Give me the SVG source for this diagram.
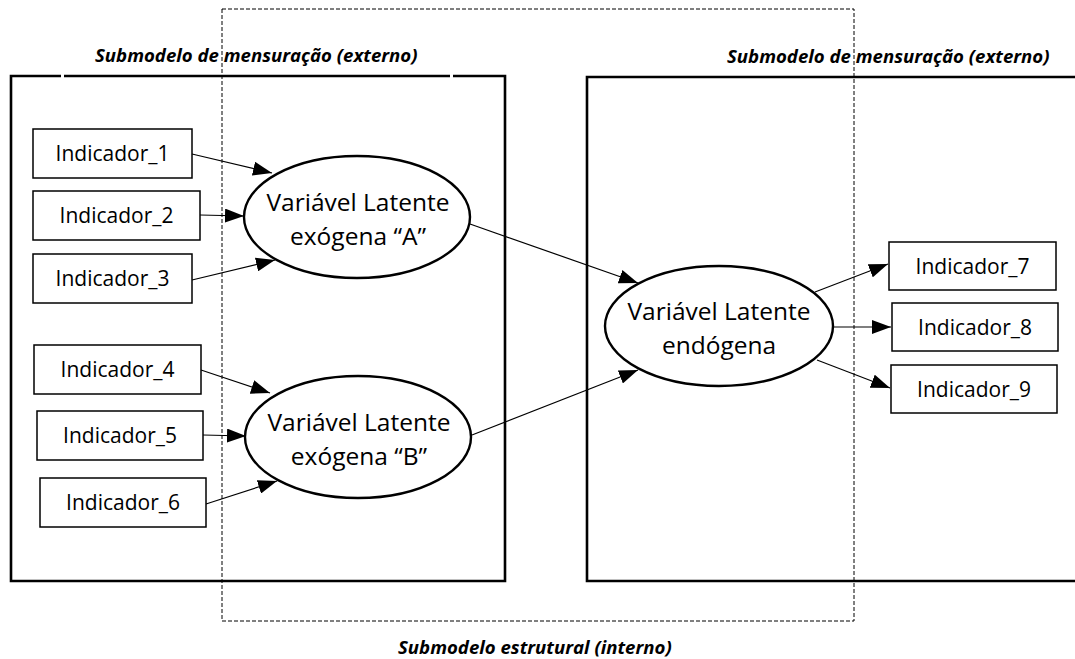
<svg xmlns="http://www.w3.org/2000/svg" width="1075" height="659" viewBox="0 0 1075 659">
  <style>
    .frame { fill: none; stroke: #000; stroke-width: 2.6; }
    .scope { fill: none; stroke: #000; stroke-width: 1; stroke-dasharray: 4 2; }
    .ind rect { fill: #fff; stroke: #000; stroke-width: 1.5; }
    .lat ellipse { fill: #fff; stroke: #000; stroke-width: 2.4; }
    .lbl { font-family: "Open Sans", "Liberation Sans", sans-serif; font-size: 21px; fill: #000; text-anchor: middle; }
    .big { font-size: 24.5px; }
    .title { font-family: "Open Sans", "Liberation Sans", sans-serif; font-size: 18.6px; font-weight: bold; font-style: italic; fill: #000; }
    .edge { stroke: #000; stroke-width: 1.2; fill: none; marker-end: url(#head); }
  </style>
  <defs>
    <marker id="head" markerUnits="userSpaceOnUse" markerWidth="20" markerHeight="14" refX="19" refY="7" orient="auto">
      <path d="M0,0 L19,7 L0,14 Z" fill="#000"/>
    </marker>
  </defs>

  <rect width="1075" height="659" fill="#fff"/>

  <!-- titles -->
  <g id="titles">
    <text class="title" x="95" y="62">Submodelo de mensuração (externo)</text>
    <text class="title" x="727" y="63">Submodelo de mensuração (externo)</text>
    <text class="title" x="398" y="654">Submodelo estrutural (interno)</text>
  </g>

  <!-- measurement frames -->
  <g id="frames">
    <path class="frame" d="M61,76 H11 V581 H505 V76 H453 M450,76 H64"/>
    <path class="frame" d="M1080,77 H587 V581 H1080"/>
  </g>

  <!-- structural scope -->
  <rect id="structural" class="scope" x="222" y="9" width="632" height="612"/>

  <g id="connectors">
    <line class="edge" x1="192" y1="154" x2="272" y2="173"/>
    <line class="edge" x1="200" y1="215" x2="244" y2="216"/>
    <line class="edge" x1="192" y1="280" x2="275" y2="260"/>
    <line class="edge" x1="201" y1="370" x2="270" y2="393"/>
    <line class="edge" x1="203" y1="435" x2="246" y2="436"/>
    <line class="edge" x1="206" y1="504" x2="277" y2="481"/>
    <line class="edge" x1="470" y1="224" x2="638" y2="283"/>
    <line class="edge" x1="472" y1="435" x2="638" y2="370"/>
    <line class="edge" x1="815" y1="292" x2="888" y2="264"/>
    <line class="edge" x1="833" y1="327" x2="891" y2="327"/>
    <line class="edge" x1="817" y1="360" x2="890" y2="388"/>
  </g>

  <g id="ind1" class="ind"><rect x="33" y="129" width="159" height="49"/><text class="lbl" x="112.5" y="161">Indicador_1</text></g>
  <g id="ind2" class="ind"><rect x="33" y="191" width="167" height="49"/><text class="lbl" x="116.5" y="223">Indicador_2</text></g>
  <g id="ind3" class="ind"><rect x="33" y="254" width="159" height="49"/><text class="lbl" x="112.5" y="286">Indicador_3</text></g>
  <g id="ind4" class="ind"><rect x="34" y="345" width="167" height="49"/><text class="lbl" x="117.5" y="377">Indicador_4</text></g>
  <g id="ind5" class="ind"><rect x="37" y="411" width="166" height="49"/><text class="lbl" x="120" y="443">Indicador_5</text></g>
  <g id="ind6" class="ind"><rect x="40" y="478" width="166" height="49"/><text class="lbl" x="123" y="510">Indicador_6</text></g>

  <g id="latA" class="lat"><ellipse cx="357" cy="217" rx="113" ry="61"/>
    <text class="lbl big" x="358" y="211">Variável Latente</text>
    <text class="lbl big" x="358" y="245">exógena “A”</text></g>
  <g id="latB" class="lat"><ellipse cx="358" cy="437" rx="113" ry="61"/>
    <text class="lbl big" x="359" y="431">Variável Latente</text>
    <text class="lbl big" x="359" y="465">exógena “B”</text></g>
  <g id="latEndo" class="lat"><ellipse cx="719" cy="326" rx="114" ry="60"/>
    <text class="lbl big" x="719" y="320">Variável Latente</text>
    <text class="lbl big" x="719" y="354">endógena</text></g>

  <g id="ind7" class="ind"><rect x="889" y="242" width="167" height="48"/><text class="lbl" x="972.5" y="273.5">Indicador_7</text></g>
  <g id="ind8" class="ind"><rect x="892" y="303" width="166" height="48"/><text class="lbl" x="975" y="334.5">Indicador_8</text></g>
  <g id="ind9" class="ind"><rect x="891" y="365" width="166" height="48"/><text class="lbl" x="974" y="396.5">Indicador_9</text></g>
</svg>
